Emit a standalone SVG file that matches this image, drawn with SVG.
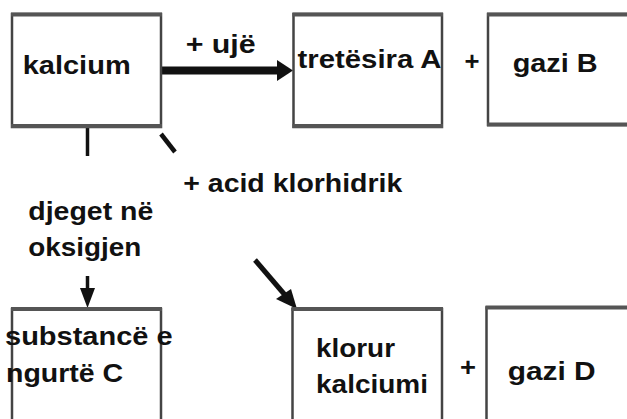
<svg xmlns="http://www.w3.org/2000/svg" width="627" height="419" viewBox="0 0 627 419">
<style>
.box{fill:#fff;stroke:#444;stroke-width:2.5}
.edge{stroke:#555;stroke-width:4;fill:none}
.t{font-family:"Liberation Sans",Arial,sans-serif;font-weight:bold;font-size:25px;fill:#111}
.ln{stroke:#111;fill:none}
</style>
<rect width="627" height="419" fill="#fff"/>
<g id="connectors">
  <!-- horizontal arrow kalcium -> tretesira -->
  <rect x="161" y="66.5" width="118" height="8" fill="#111"/>
  <polygon points="277,60 293,70.5 277,81" fill="#111"/>
  <!-- vertical kalcium -> C -->
  <line class="ln" x1="87.5" y1="128" x2="87.5" y2="156" stroke-width="3.5"/>
  <line class="ln" x1="87.5" y1="276" x2="87.5" y2="292" stroke-width="3.5"/>
  <polygon points="80,288 95,288 87.5,308" fill="#111"/>
  <!-- diagonal kalcium -> klorur -->
  <line class="ln" x1="161" y1="134" x2="175" y2="152" stroke-width="4.5"/>
  <line class="ln" x1="255" y1="260" x2="285" y2="295" stroke-width="5"/>
  <polygon points="276,299 291,289 297,309" fill="#111"/>
</g>
<g id="kalcium">
  <rect class="box" x="12" y="14" width="149" height="113"/>
  <line class="edge" x1="11" y1="14.5" x2="162" y2="14.5"/>
  <line class="edge" x1="11" y1="126" x2="162" y2="126"/>
  <text class="t" x="22.7" y="74.3" textLength="108" lengthAdjust="spacingAndGlyphs">kalcium</text>
</g>
<g id="label-uje">
  <text class="t" x="185.7" y="53" textLength="70" lengthAdjust="spacingAndGlyphs">+ ujë</text>
</g>
<g id="tretesira">
  <rect class="box" x="293.5" y="14" width="148.5" height="113"/>
  <line class="edge" x1="292.5" y1="14.5" x2="443" y2="14.5"/>
  <line class="edge" x1="292.5" y1="126" x2="443" y2="126"/>
  <text class="t" x="297.5" y="68" textLength="144" lengthAdjust="spacingAndGlyphs">tretësira A</text>
</g>
<g id="plus1">
  <text class="t" x="464.5" y="70" textLength="15" lengthAdjust="spacingAndGlyphs">+</text>
</g>
<g id="gaziB">
  <rect class="box" x="488" y="14" width="150" height="111"/>
  <line class="edge" x1="487" y1="14.5" x2="630" y2="14.5"/>
  <line class="edge" x1="487" y1="124.5" x2="630" y2="124.5"/>
  <text class="t" x="512.7" y="71.7" textLength="85" lengthAdjust="spacingAndGlyphs">gazi B</text>
</g>
<g id="label-acid">
  <text class="t" x="183.3" y="192.3" textLength="219" lengthAdjust="spacingAndGlyphs">+ acid klorhidrik</text>
</g>
<g id="label-djeget">
  <text class="t" x="28.3" y="220" textLength="125" lengthAdjust="spacingAndGlyphs">djeget në</text>
  <text class="t" x="28.3" y="256" textLength="113" lengthAdjust="spacingAndGlyphs">oksigjen</text>
</g>
<g id="substance-C">
  <rect class="box" x="12" y="309" width="149" height="130"/>
  <line class="edge" x1="11" y1="309" x2="162" y2="309" stroke-width="3"/>
  <text class="t" x="5" y="345" textLength="167.7" lengthAdjust="spacingAndGlyphs">substancë e</text>
  <text class="t" x="6" y="381.7" textLength="117" lengthAdjust="spacingAndGlyphs">ngurtë C</text>
</g>
<g id="klorur">
  <rect class="box" x="292.5" y="309" width="149.5" height="130"/>
  <line class="edge" x1="291.5" y1="309" x2="443" y2="309" stroke-width="3"/>
  <text class="t" x="316" y="356.7" textLength="79" lengthAdjust="spacingAndGlyphs">klorur</text>
  <text class="t" x="316" y="393.3" textLength="112" lengthAdjust="spacingAndGlyphs">kalciumi</text>
</g>
<g id="plus2">
  <text class="t" x="460" y="376" textLength="16" lengthAdjust="spacingAndGlyphs">+</text>
</g>
<g id="gaziD">
  <rect class="box" x="486.5" y="307.5" width="150" height="130"/>
  <line class="edge" x1="485.5" y1="307.5" x2="630" y2="307.5" stroke-width="3.5"/>
  <text class="t" x="507.7" y="380" textLength="88" lengthAdjust="spacingAndGlyphs">gazi D</text>
</g>
</svg>
